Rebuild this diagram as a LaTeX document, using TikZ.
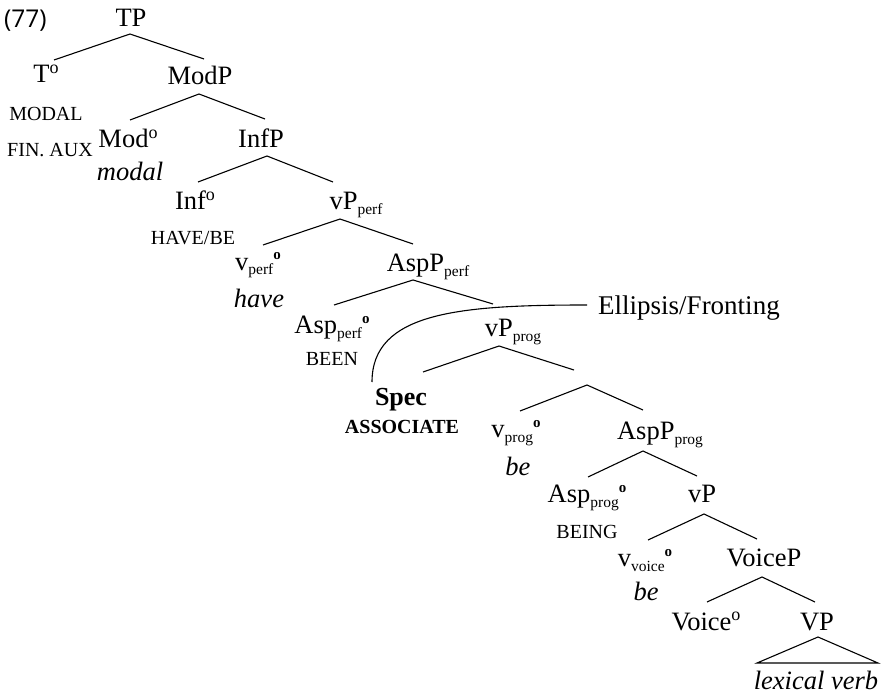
\documentclass[tikz,border=0pt]{standalone}
\usepackage{fontspec}
\setmainfont{Liberation Serif}
\newfontfamily\exnumfont{Open Sans}
% subscript on a category label
\newcommand\sbs[1]{\raisebox{-5pt}{\fontsize{15.5}{16}\selectfont #1}}
% head ring written after a subscript
\newcommand\hring{\raisebox{10pt}{\fontsize{15}{16}\selectfont\textbf{o}}}
% head ring written straight after a label
\newcommand\hd{\raisebox{9.5pt}{\fontsize{18}{20}\selectfont o}}
\begin{document}
\begin{tikzpicture}[x=1pt,y=-1pt,
  lbl/.style={anchor=base,inner sep=0pt,font=\fontsize{26.5}{30}\selectfont},
  feat/.style={anchor=base,inner sep=0pt,font=\fontsize{20}{22}\selectfont},
  form/.style={anchor=base,inner sep=0pt,font=\fontsize{26.5}{30}\selectfont\itshape},
  assoc/.style={anchor=base,inner sep=0pt,font=\fontsize{20}{22}\selectfont\bfseries},
  branch/.style={line width=1.1pt},
  arcline/.style={line width=1.1pt}]
\useasboundingbox (0,0) rectangle (881,695);

% example number
\node[anchor=base west,inner sep=0pt,font=\exnumfont\fontsize{24.5}{28}\selectfont] (num) at (4,28) {(77)};

% category labels
\node[lbl] (TP) at (131,27) {TP};
\node[lbl] (T) at (46,83) {T\hd};
\node[lbl] (ModP) at (200,85) {ModP};
\node[lbl] (Mod) at (128,148) {Mod\hd};
\node[lbl] (InfP) at (261,148) {InfP};
\node[lbl] (Inf) at (195,210) {Inf\hd};
\node[lbl] (vPperf) at (356,210) {vP\sbs{perf}};
\node[lbl] (vperf) at (258,270) {v\sbs{perf}\hring};
\node[lbl] (AspPperf) at (428,272) {AspP\sbs{perf}};
\node[lbl] (Aspperf) at (332,333) {Asp\sbs{perf}\hring};
\node[lbl] (vPprog) at (513,336) {vP\sbs{prog}};
\node[lbl,font=\fontsize{26}{30}\selectfont\bfseries] (Spec) at (401,405) {Spec};
\coordinate (bar) at (580,378);
\node[lbl] (vprog) at (516,437) {v\sbs{prog}\hring};
\node[lbl] (AspPprog) at (660,439) {AspP\sbs{prog}};
\node[lbl] (Aspprog) at (587,502) {Asp\sbs{prog}\hring};
\node[lbl] (vP) at (702,502) {vP};
\node[lbl] (vvoice) at (645,566) {v\sbs{voice}\hring};
\node[lbl] (VoiceP) at (764,566) {VoiceP};
\node[lbl] (Voice) at (706,630) {Voice\hd};
\node[lbl] (VP) at (817,630) {VP};

% features and forms under the heads
\node[feat] (modalF) at (46,121) {MODAL};
\node[feat] (finaux) at (50,157) {FIN. AUX};
\node[form] (modal) at (130,181) {modal};
\node[feat] (havebe) at (193,245) {HAVE/BE};
\node[form] (have) at (259,307) {have};
\node[feat] (been) at (332,365) {BEEN};
\node[assoc] (associate) at (402,433) {ASSOCIATE};
\node[form] (be1) at (518,475) {be};
\node[feat] (being) at (587,538) {BEING};
\node[form] (be2) at (646,600) {be};
\node[form] (lexv) at (816,689) {lexical verb};
\node[anchor=base west,inner sep=0pt,font=\fontsize{27}{30}\selectfont] (ellipsis) at (598,314) {Ellipsis/Fronting};

% branch end points
\coordinate (TP-b) at (130,34);   \coordinate (T-t) at (54,60);      \coordinate (ModP-t) at (204,59);
\coordinate (ModP-b) at (199,94); \coordinate (Mod-t) at (130,120);  \coordinate (InfP-t) at (265,119);
\coordinate (InfP-b) at (267,156);\coordinate (Inf-t) at (198,182);  \coordinate (vPperf-t) at (333,182);
\coordinate (vPperf-b) at (340,219);\coordinate (vperf-t) at (263,245);\coordinate (AspPperf-t) at (413,244);
\coordinate (AspPperf-b) at (413,280);\coordinate (Aspperf-t) at (334,305);\coordinate (vPprog-t) at (493,304);
\coordinate (vPprog-b) at (499,346);\coordinate (Spec-t) at (423,372);\coordinate (bar-t) at (574,370);
\coordinate (bar-b) at (587,385); \coordinate (vprog-t) at (520,411); \coordinate (AspPprog-t) at (643,410);
\coordinate (AspPprog-b) at (643,451);\coordinate (Aspprog-t) at (588,477);\coordinate (vP-t) at (697,476);
\coordinate (vP-b) at (704,514);  \coordinate (vvoice-t) at (648,540);\coordinate (VoiceP-t) at (757,539);
\coordinate (VoiceP-b) at (762,577);\coordinate (Voice-t) at (707,602);\coordinate (VP-t) at (815,602);
\coordinate (VP-b) at (818,637);  \coordinate (lexv-l) at (757,663);  \coordinate (lexv-r) at (878,663);

% branches
\draw[branch] (T-t) -- (TP-b) -- (ModP-t);
\draw[branch] (Mod-t) -- (ModP-b) -- (InfP-t);
\draw[branch] (Inf-t) -- (InfP-b) -- (vPperf-t);
\draw[branch] (vperf-t) -- (vPperf-b) -- (AspPperf-t);
\draw[branch] (Aspperf-t) -- (AspPperf-b) -- (vPprog-t);
\draw[branch] (Spec-t) -- (vPprog-b) -- (bar-t);
\draw[branch] (vprog-t) -- (bar-b) -- (AspPprog-t);
\draw[branch] (Aspprog-t) -- (AspPprog-b) -- (vP-t);
\draw[branch] (vvoice-t) -- (vP-b) -- (VoiceP-t);
\draw[branch] (Voice-t) -- (VoiceP-b) -- (VP-t);
\draw[branch] (VP-b) -- (lexv-r) -- (lexv-l) -- cycle;

% ellipsis / fronting domain
\coordinate (arc-r) at (587,305);
\coordinate (arc-l) at (372,382);
\draw[arcline] (arc-r) .. controls (460,305) and (372,312) .. (arc-l);
\end{tikzpicture}
\end{document}
